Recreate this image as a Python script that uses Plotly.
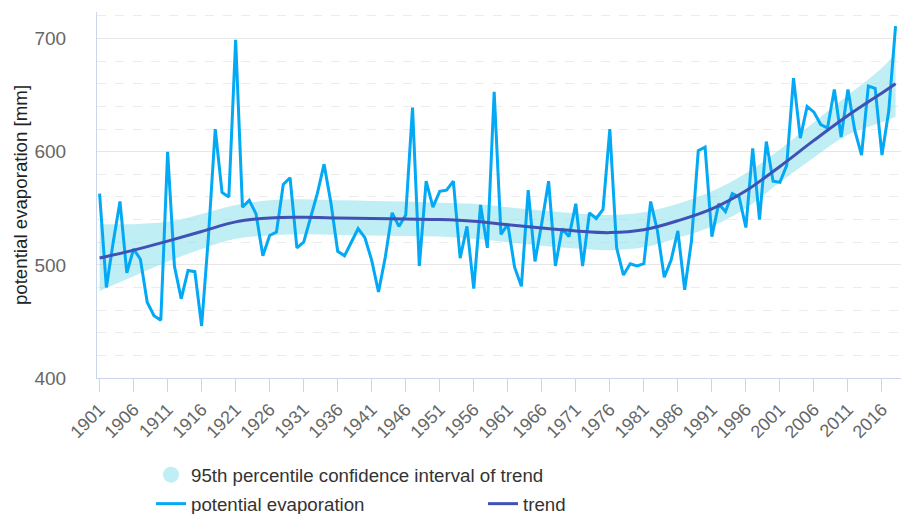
import plotly.graph_objects as go

# ---- data ----
years = list(range(1901, 2019))
potential_evaporation = [
    563, 480, 520, 556, 493, 514, 505, 467, 455, 451,   # 1901-1910
    600, 499, 470, 495, 494, 446, 525, 620, 564, 560,   # 1911-1920
    699, 551, 557, 545, 508, 526, 529, 571, 577, 515,   # 1921-1930
    520, 541, 563, 589, 555, 512, 508, 520, 532, 524,   # 1931-1940
    504, 476, 507, 546, 534, 544, 639, 499, 574, 551,   # 1941-1950
    565, 566, 574, 506, 534, 479, 553, 515, 653, 527,   # 1951-1960
    536, 498, 481, 566, 503, 537, 574, 499, 532, 525,   # 1961-1970
    554, 499, 546, 541, 549, 620, 515, 491, 501, 499,   # 1971-1980
    501, 556, 530, 489, 504, 530, 478, 521, 601, 604,   # 1981-1990
    525, 554, 547, 563, 560, 533, 603, 540, 609, 574,   # 1991-2000
    573, 588, 665, 612, 640, 635, 624, 621, 655, 613,   # 2001-2010
    655, 619, 597, 658, 656, 597, 636, 711,             # 2011-2018
]

trend_years = [1901, 1906, 1911, 1916, 1921, 1926, 1931, 1936, 1941, 1946,
               1951, 1956, 1961, 1966, 1971, 1976, 1981, 1986, 1991, 1996,
               2001, 2006, 2011, 2016, 2018]
trend = [506, 513, 521, 529.5, 538, 541.5, 542, 541.5, 541, 540.5,
         540, 538.5, 535.5, 532.5, 530, 528.5, 531, 539, 549.5, 565.5,
         587, 610, 632, 652, 660]
ci_upper = [536, 536, 538, 545, 553, 557, 558, 557, 556.5, 556,
            555, 554, 551, 548, 545.5, 544, 546.5, 554, 565, 581,
            602, 626, 650, 674, 687]
ci_lower = [477, 490, 503, 514, 523, 526, 527, 526.5, 526, 525.5,
            525, 523, 520, 517, 514.5, 513, 515.5, 524, 534, 550,
            573, 595, 615, 626, 631]

y_ticks = [400, 500, 600, 700]

FONT = "Liberation Sans, Arial, sans-serif"
C_POT = "#03a9f4"
C_TREND = "#3f51b5"
C_CI = "rgba(128,222,234,0.5)"

fig = go.Figure()

# confidence band
fig.add_trace(go.Scatter(x=trend_years, y=ci_lower, mode="lines",
                         line=dict(width=0, shape="spline", smoothing=1.0),
                         showlegend=False, hoverinfo="skip"))
fig.add_trace(go.Scatter(x=trend_years, y=ci_upper, mode="lines",
                         line=dict(width=0, shape="spline", smoothing=1.0),
                         fill="tonexty", fillcolor=C_CI,
                         showlegend=False, hoverinfo="skip"))
# legend entry for the band (circle symbol)
fig.add_trace(go.Scatter(x=[None], y=[None], mode="markers",
                         marker=dict(size=16, color=C_CI, symbol="circle"),
                         name="95th percentile confidence interval of trend",
                         legend="legend"))

fig.add_trace(go.Scatter(x=years, y=potential_evaporation, mode="lines",
                         line=dict(color=C_POT, width=3),
                         name="potential evaporation", legend="legend2"))
fig.add_trace(go.Scatter(x=trend_years, y=trend, mode="lines",
                         line=dict(color=C_TREND, width=3, shape="spline", smoothing=1.0),
                         name="trend", legend="legend2"))

fig.update_layout(
    width=901, height=514,
    template="none",
    paper_bgcolor="white", plot_bgcolor="white",
    margin=dict(l=97, r=0, t=12, b=136, autoexpand=False),
    font=dict(family=FONT, color="#333333"),
    xaxis=dict(
        range=[1900.62, 2018.8],
        tick0=1901, dtick=5,
        ticks="outside", ticklen=13, tickwidth=1, tickcolor="#ccd6eb",
        showline=True, linecolor="#ccd6eb", linewidth=1,
        showgrid=False, zeroline=False,
        tickangle=-45,
        tickfont=dict(family=FONT, size=18, color="#666666"),
    ),
    yaxis=dict(
        range=[400, 723.5],
        tickvals=y_ticks,
        ticks="", showline=True, linecolor="#ccd6eb", linewidth=1,
        showgrid=True, gridcolor="#e6e6e6", gridwidth=1,
        zeroline=False,
        minor=dict(dtick=20, showgrid=True, gridcolor="#ececec", griddash="dash", ticks=""),
        ticklabelstandoff=26,
        tickfont=dict(family=FONT, size=19, color="#666666"),
        title=dict(text="potential evaporation [mm]",
                   font=dict(family=FONT, size=18.7, color="#222222"),
                   standoff=1),
    ),
    legend=dict(
        xref="container", yref="container",
        x=151 / 901, y=1 - 475 / 514, xanchor="left", yanchor="middle",
        orientation="h", itemsizing="trace",
        font=dict(family=FONT, size=18.7, color="#333333"),
        bgcolor="rgba(0,0,0,0)",
    ),
    legend2=dict(
        xref="container", yref="container",
        x=151 / 901, y=1 - 504 / 514, xanchor="left", yanchor="middle",
        orientation="h", entrywidth=287, entrywidthmode="pixels",
        font=dict(family=FONT, size=18.7, color="#333333"),
        bgcolor="rgba(0,0,0,0)",
    ),
)

fig.write_html(
    "out.html",
    config={"displayModeBar": False},
    post_script="document.body.style.margin='0';document.body.style.overflow='hidden';",
)
